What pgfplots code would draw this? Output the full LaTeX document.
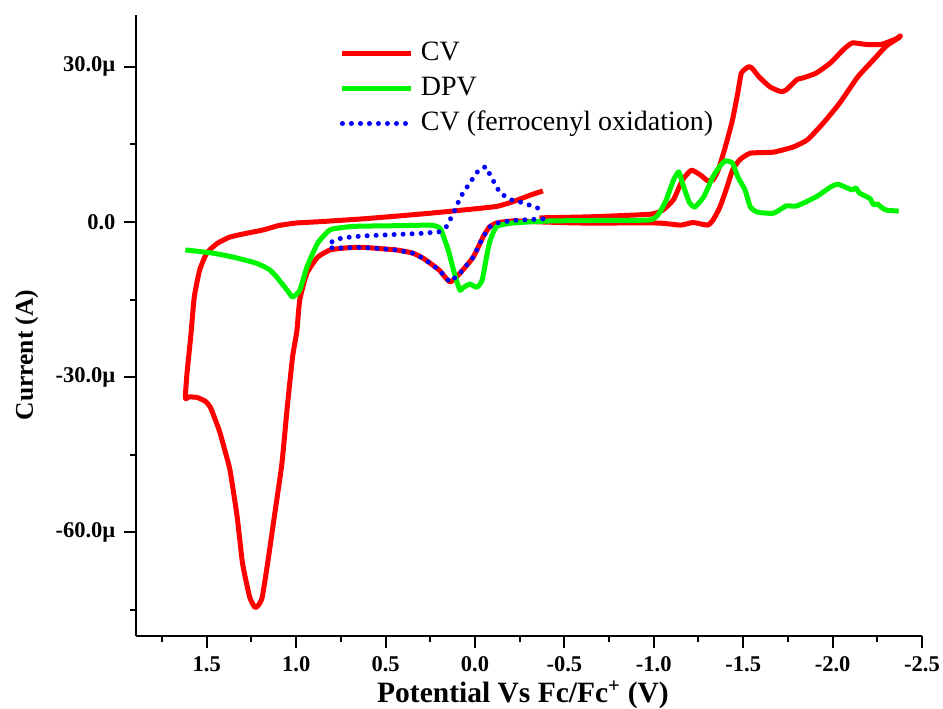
\documentclass[border=0pt]{standalone}
\usepackage{pgfplots}
\pgfplotsset{compat=1.18}
\usepackage{fontspec}
\setmainfont{Liberation Serif}
\definecolor{cvred}{RGB}{255,0,0}
\definecolor{dpvgreen}{RGB}{0,245,0}
\definecolor{fcblue}{RGB}{0,0,255}
\begin{document}
\begin{tikzpicture}
\useasboundingbox (0,0) rectangle (943pt,709pt);
\begin{axis}[
  at={(136pt,73pt)}, anchor=south west,
  width=786pt, height=621pt, scale only axis,
  x dir=reverse,
  xmin=-2.5, xmax=1.896,
  ymin=-80, ymax=40,
  axis x line*=bottom, axis y line*=left,
  axis line style={line width=2.3pt, black},
  tick align=outside,
  major tick length=12pt, minor tick length=6pt,
  every major tick/.style={line width=2pt, black},
  every minor tick/.style={line width=2pt, black},
  xtick={1.5,1.0,0.5,0,-0.5,-1.0,-1.5,-2.0,-2.5},
  xticklabels={1.5,1.0,0.5,0.0,-0.5,-1.0,-1.5,-2.0,-2.5},
  minor xtick={1.75,1.25,0.75,0.25,-0.25,-0.75,-1.25,-1.75,-2.25},
  ytick={-60,-30,0,30},
  yticklabels={-60.0µ,-30.0µ,0.0,30.0µ},
  minor ytick={-75,-45,-15,15},
  /pgf/number format/assume math mode=true,
  tick label style={font=\fontsize{22.5}{26}\selectfont\bfseries},
  xticklabel style={yshift=-5pt},
  yticklabel style={xshift=-5pt},
  xlabel={Potential Vs Fc/Fc\textsuperscript{+} (V)},
  ylabel={Current (A)},
  xlabel style={font=\fontsize{29.5}{32}\selectfont\bfseries, at={(axis description cs:0.4924,-0.1063)}, anchor=base},
  ylabel style={font=\fontsize{25.5}{30}\selectfont\bfseries, at={(axis description cs:-0.139,0.4525)}, anchor=center, rotate=0},
  legend cell align=left,
  legend style={at={(axis description cs:0.2595,0.9597)}, anchor=north west,
    draw=none, fill=none, inner sep=0pt, outer sep=0pt,
    font=\fontsize{28}{28}\selectfont,
    nodes={inner sep=0pt, text height=20pt, text depth=7pt},
    row sep=8pt, column sep=7pt},
  legend image code/.code={\draw[#1] (0pt,0pt) -- (69pt,0pt);},
  clip=false,
]
\addplot[cvred, line width=5pt, line join=round, smooth, tension=0.3] coordinates {
(-0.38,6.0) (-0.31,5.2) (-0.21,3.9) (-0.12,3.0) (0.07,2.3) (0.25,1.7) (0.45,1.1)
(0.63,0.6) (0.85,0.1) (1.0,-0.2) (1.10,-0.7) (1.18,-1.5) (1.28,-2.2) (1.37,-2.9)
(1.44,-4.1) (1.50,-6.0) (1.54,-9.3) (1.57,-14.5) (1.59,-22.2) (1.61,-29) (1.62,-34)
(1.60,-33.8) (1.555,-33.9) (1.51,-34.6) (1.48,-35.8) (1.43,-40.3) (1.40,-44)
(1.37,-48) (1.33,-57) (1.30,-66) (1.26,-72.5) (1.23,-74.5) (1.21,-74) (1.19,-72.5)
(1.16,-66) (1.12,-56.4) (1.08,-46.7) (1.05,-35.8) (1.02,-26) (0.996,-21) (0.98,-15)
(0.94,-9.9) (0.88,-6.8) (0.81,-5.4) (0.72,-5.0) (0.63,-4.9) (0.44,-5.4) (0.35,-6.0)
(0.29,-7) (0.20,-9.3) (0.14,-11.6) (0.084,-9.9) (0.01,-6.8) (-0.045,-2.9)
(-0.08,-1.0) (-0.12,-0.2) (-0.21,0.2) (-0.38,0.0) (-0.6,-0.2) (-1.02,-0.2)
(-1.15,-0.6) (-1.22,-0.1) (-1.30,-0.6) (-1.33,0.3) (-1.37,2.9) (-1.41,6.8)
(-1.44,10) (-1.48,12) (-1.54,13.3) (-1.67,13.5) (-1.78,14.5) (-1.86,15.9)
(-1.95,19.2) (-2.04,23) (-2.14,28) (-2.23,31.4) (-2.30,34) (-2.37,35.6) (-2.38,36.0)
(-2.35,35.3) (-2.27,34.3) (-2.19,34.3) (-2.11,34.6) (-2.06,33.3) (-1.99,30.8)
(-1.91,28.8) (-1.84,27.9) (-1.80,27.5) (-1.74,25.5) (-1.71,25.2) (-1.65,26.1)
(-1.59,28) (-1.55,29.7) (-1.53,30) (-1.49,28.8) (-1.47,25) (-1.44,19.7) (-1.40,14.5)
(-1.36,10) (-1.33,8.1) (-1.30,8.0) (-1.26,9.1) (-1.21,10) (-1.16,8.1) (-1.11,4.3)
(-1.05,2.3) (-0.98,1.5) (-0.64,1.0) (-0.36,0.8)
};
\addlegendentry{CV}
\addplot[dpvgreen, line width=5pt, line join=round, smooth, tension=0.3] coordinates {
(1.62,-5.4) (1.47,-6.0) (1.35,-6.8) (1.22,-8.0) (1.15,-9.2) (1.11,-10.6) (1.05,-13.2)
(1.02,-14.5) (0.98,-13.2) (0.94,-8.7) (0.88,-4.1) (0.81,-1.5) (0.70,-0.9) (0.63,-0.8)
(0.40,-0.7) (0.25,-0.6) (0.21,-0.9) (0.19,-1.5) (0.15,-5.4) (0.11,-10.6) (0.084,-13.2)
(0.07,-12.8) (0.03,-12.0) (-0.01,-12.6) (-0.04,-11.2) (-0.08,-4.1) (-0.12,-0.9)
(-0.21,-0.2) (-0.42,0.2) (-0.70,0.3) (-0.98,0.4) (-1.03,1.7) (-1.07,4.3) (-1.11,8.1)
(-1.14,9.7) (-1.16,7.5) (-1.20,3.7) (-1.23,2.9) (-1.28,4.9) (-1.33,8.7) (-1.37,10.8)
(-1.40,11.8) (-1.44,11.4) (-1.47,8.7) (-1.51,6.2) (-1.54,2.9) (-1.58,1.9) (-1.67,1.7)
(-1.74,3.1) (-1.80,3.1) (-1.91,4.9) (-1.99,6.8) (-2.03,7.3) (-2.08,6.6) (-2.11,6.2)
(-2.13,6.6) (-2.15,5.6) (-2.19,4.9) (-2.21,4.5) (-2.23,3.3) (-2.25,3.5) (-2.27,2.9)
(-2.30,2.3) (-2.37,2.1)
};
\addlegendentry{DPV}
\addplot[fcblue, line width=5pt, line cap=round, dash pattern=on 0pt off 9pt] coordinates {
(-0.35,2.7) (-0.27,3.7) (-0.20,4.3) (-0.14,5.6) (-0.10,8.1) (-0.06,10.7) (-0.02,10)
(0.03,7.5) (0.08,4.9) (0.12,1.7) (0.16,-0.9) (0.20,-1.9) (0.30,-2.2) (0.50,-2.5)
(0.63,-2.7) (0.72,-3.0) (0.77,-3.3) (0.81,-4.0) (0.81,-5.0) (0.75,-5.0) (0.63,-4.9)
(0.44,-5.4) (0.35,-6.0) (0.29,-7) (0.20,-9.3) (0.14,-11.6) (0.084,-9.9) (0.01,-6.8)
(-0.045,-2.9) (-0.08,-1.0) (-0.12,-0.2) (-0.21,0.3) (-0.38,0.6)
};
\addlegendentry{CV (ferrocenyl oxidation)}
\end{axis}
\end{tikzpicture}
\end{document}
